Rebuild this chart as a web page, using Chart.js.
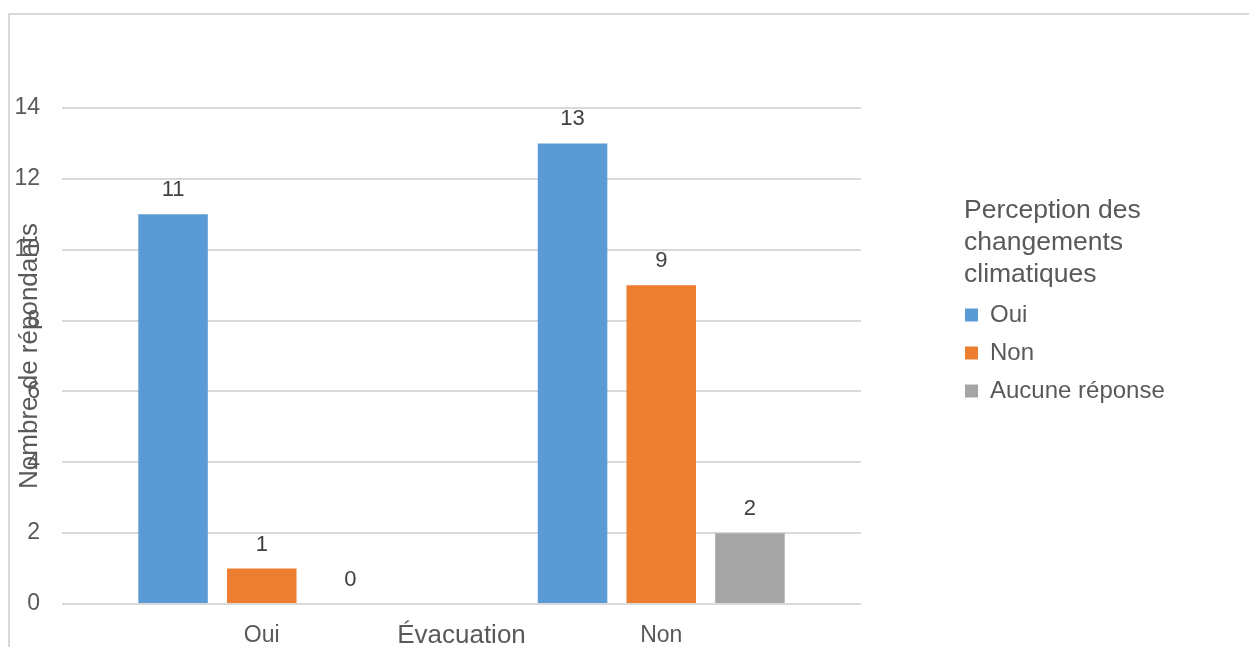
<!DOCTYPE html>
<html lang="fr">
<head>
<meta charset="utf-8">
<title>Évacuation et perception des changements climatiques</title>
<script src="https://cdn.jsdelivr.net/npm/chart.js@4.4.1/dist/chart.umd.min.js"></script>
<style>
  html, body { margin: 0; padding: 0; background: #fff; overflow: hidden; }
  #wrap { position: relative; width: 1249px; height: 647px; }
  #frame {
    position: absolute; left: 8px; top: 13px; right: -20px; bottom: -20px;
    border-left: 2px solid #d9d9d9; border-top: 2px solid #d9d9d9;
    pointer-events: none;
  }
</style>
</head>
<body>
<div id="wrap">
  <canvas id="chart"></canvas>
  <div id="frame"></div>
</div>
<script>
// Data
const categories = ['Oui', 'Non'];
const seriesNames = ['Oui', 'Non', 'Aucune réponse'];
const seriesOui = [11, 13];
const seriesNon = [1, 9];
const seriesAucune = [0, 2];
const yTicks = [0, 2, 4, 6, 8, 10, 12, 14];
const legendTitle = ['Perception des', 'changements', 'climatiques'];

const colors = ['#5B9BD5', '#ED7D31', '#A5A5A5'];
const textColor = '#595959';

Chart.defaults.font.family = '"Liberation Sans", Arial, sans-serif';

// Value labels above each bar
const valueLabels = {
    id: 'valueLabels',
    afterDatasetsDraw(chart) {
        const ctx = chart.ctx;
        ctx.save();
        ctx.font = '22px "Liberation Sans", Arial, sans-serif';
        ctx.fillStyle = '#404040';
        ctx.textAlign = 'center';
        ctx.textBaseline = 'middle';
        chart.data.datasets.forEach((ds, i) => {
            chart.getDatasetMeta(i).data.forEach((bar, j) => {
                ctx.fillText(ds.data[j], bar.x, bar.y - 24);
            });
        });
        ctx.restore();
    }
};

// Give the legend a fixed width so it sits where the reference has it
const legendWidth = {
    id: 'legendWidth',
    beforeLayout(chart) {
        const legend = chart.legend;
        if (!legend || legend._fixedWidth) return;
        const fit = legend.fit;
        legend.fit = function () {
            fit.call(this);
            this.width = 285;
        };
        legend._fixedWidth = true;
    }
};

const seriesValues = [seriesOui, seriesNon, seriesAucune];

const chart = new Chart(document.getElementById('chart'), {
    type: 'bar',
    data: {
        labels: categories,
        datasets: seriesNames.map((name, i) => ({
            label: name,
            data: seriesValues[i],
            backgroundColor: colors[i],
            borderWidth: 0,
            barPercentage: 0.784,
            categoryPercentage: 0.666
        }))
    },
    options: {
        responsive: true,
        maintainAspectRatio: false,
        animation: false,
        layout: { padding: { top: 108, left: 0, right: 0, bottom: 0 } },
        plugins: {
            tooltip: { enabled: false },
            legend: {
                position: 'right',
                align: 'start',
                title: {
                    display: true,
                    position: 'start',
                    text: legendTitle,
                    color: textColor,
                    font: { size: 26.5, lineHeight: 32 / 26.5 },
                    padding: { top: 89, bottom: 73 }
                },
                labels: {
                    boxWidth: 13,
                    boxHeight: 13,
                    padding: 1,
                    color: textColor,
                    font: { size: 24, lineHeight: 37 / 24 },
                    generateLabels(chart) {
                        return Chart.defaults.plugins.legend.labels.generateLabels(chart)
                            .map(item => ({ ...item, text: [item.text] }));
                    }
                }
            }
        },
        scales: {
            x: {
                grid: { display: false, drawTicks: false, tickLength: 0 },
                border: { display: false },
                ticks: { color: textColor, font: { size: 23 }, padding: 18 },
                title: {
                    display: true,
                    text: 'Évacuation',
                    color: textColor,
                    font: { size: 26 },
                    padding: { top: 0, bottom: -4 }
                },
                afterFit(scale) { scale.height = 43; }
            },
            y: {
                min: yTicks[0],
                max: yTicks[yTicks.length - 1],
                grid: { color: '#d9d9d9', lineWidth: 2, drawTicks: false, tickLength: 0 },
                border: { display: false },
                ticks: {
                    stepSize: yTicks[1] - yTicks[0],
                    color: textColor,
                    font: { size: 23 },
                    padding: 22
                },
                title: {
                    display: true,
                    text: 'Nombre de répondants',
                    color: textColor,
                    font: { size: 26 },
                    padding: { top: 14, bottom: 0 }
                },
                afterFit(scale) { scale.width = 62; }
            },
            // empty space between the plot and the legend
            gap: {
                type: 'linear',
                position: 'right',
                grid: { display: false, drawTicks: false },
                border: { display: false },
                ticks: { display: false },
                afterFit(scale) { scale.width = 103; }
            }
        }
    },
    plugins: [valueLabels, legendWidth]
});
</script>
</body>
</html>
